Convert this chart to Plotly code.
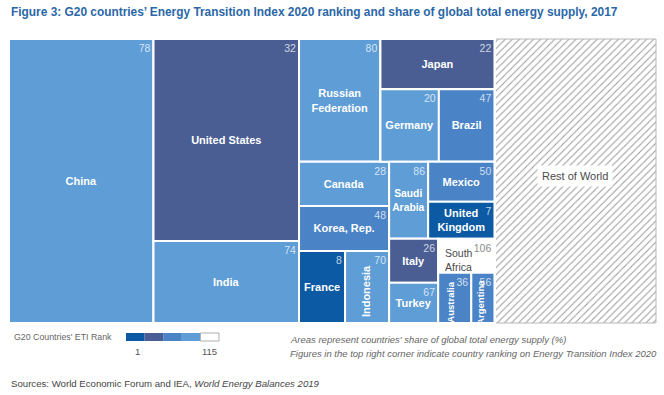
import plotly.graph_objects as go

# ---------------- data ----------------
countries = ["China", "United States", "India", "Russian Federation", "Japan",
             "Germany", "Brazil", "Canada", "Korea, Rep.", "France", "Indonesia",
             "Saudi Arabia", "Mexico", "United Kingdom", "Italy", "Turkey",
             "South Africa", "Australia", "Argentina", "Rest of World"]
shown_labels = ["China", "United States", "India", "Russian<br>Federation", "Japan",
                "Germany", "Brazil", "Canada", "Korea, Rep.", "France", "Indonesia",
                "Saudi<br>Arabia", "Mexico", "United<br>Kingdom", "Italy", "Turkey",
                "South<br>Africa", "Australia", "Argentina", "Rest of World"]
# share of global total energy supply 2017 (%)
share_pct = [22.26, 15.94, 6.47, 5.42, 3.10, 2.30, 2.19, 2.16, 2.20, 1.80, 1.72,
             1.63, 1.44, 1.33, 1.17, 1.07, 1.04, 0.90, 0.63, 24.88]
# Energy Transition Index 2020 rank
eti_rank = [78, 32, 74, 80, 22, 20, 47, 28, 48, 8, 70, 86, 50, 7, 26, 67, 106, 36, 56, None]

# nesting of the tiles (dice / slice alternating by level)
layout_tree = [
    "China",
    ["United States", "India"],
    [
        ["Russian Federation", ["Japan", ["Germany", "Brazil"]]],
        [
            ["Canada", "Korea, Rep.", ["France", "Indonesia"]],
            [
                ["Saudi Arabia", ["Mexico", "United Kingdom"]],
                [["Italy", "Turkey"], ["South Africa", ["Australia", "Argentina"]]],
            ],
        ],
    ],
    "Rest of World",
]

legend_ticks = ["1", "115"]

# ---------------- styles ----------------
DARK, SLATE, MED, LIGHT, WHITE = "#0C5AA3", "#4A5E94", "#4A84C6", "#5E9DD6", "#FFFFFF"
cell_colour = {
    "China": LIGHT, "United States": SLATE, "India": LIGHT, "Russian Federation": LIGHT,
    "Japan": SLATE, "Germany": LIGHT, "Brazil": MED, "Canada": LIGHT, "Korea, Rep.": MED,
    "France": DARK, "Indonesia": LIGHT, "Saudi Arabia": LIGHT, "Mexico": MED,
    "United Kingdom": DARK, "Italy": SLATE, "Turkey": LIGHT, "South Africa": WHITE,
    "Australia": MED, "Argentina": MED, "Rest of World": WHITE,
}
# labels drawn rotated / offset: (font size, x shift px, y shift px, angle)
special_labels = {
    "Indonesia": (11, -1, 4, -90),
    "Australia": (9.5, -4, 4, -90),
    "Argentina": (9.5, -2, 4, -90),
    "South Africa": (10.5, -7, 4, 0),
    "Rest of World": (11, 0, -5, 0),
}
FONT = "Liberation Sans, Arial, sans-serif"
W, H = 664, 395
PX0, PX1, PY0, PY1 = 9, 656, 39, 323   # treemap box in pixels

share = dict(zip(countries, share_pct))
rank = dict(zip(countries, eti_rank))
shown = dict(zip(countries, shown_labels))

ids, pars, vals, txt, rtxt = [], [], [], [], []
cols, tcols, rcols, weights, sizes, lcols, lws, pshapes = [], [], [], [], [], [], [], []


def add(node, parent):
    if isinstance(node, str):
        ids.append(node)
        pars.append(parent)
        vals.append(share[node])
        txt.append("" if node in special_labels else shown[node])
        r = rank[node]
        rtxt.append("" if r is None else str(r))
        cols.append(cell_colour[node])
        plain = node in ("South Africa", "Rest of World")
        tcols.append("#4a4a4a" if plain else "#FFFFFF")
        weights.append("normal" if plain else "bold")
        sizes.append(10.5 if plain else 11)
        rcols.append("#8c8c8c" if node == "South Africa" else "rgba(255,255,255,0.75)")
        lcols.append("#b8b8b8" if node == "Rest of World" else "#FFFFFF")
        lws.append(1 if node == "Rest of World" else 2)
        pshapes.append("/" if node == "Rest of World" else "")
        return
    gid = "grp%d" % len(ids)
    ids.append(gid)
    pars.append(parent)
    vals.append(0)
    txt.append("")
    rtxt.append("")
    cols.append(WHITE)
    tcols.append("#FFFFFF")
    weights.append("normal")
    sizes.append(11)
    rcols.append("#FFFFFF")
    lcols.append("#FFFFFF")
    lws.append(2)
    pshapes.append("")
    for child in node:
        add(child, gid)


for item in layout_tree:
    add(item, "")


# same slice-dice partition as the treemap, used only to place a few labels
def total(node):
    return share[node] if isinstance(node, str) else sum(total(c) for c in node)


centres = {}


def place(node, x0, y0, x1, y1, depth):
    if isinstance(node, str):
        centres[node] = ((x0 + x1) / 2, (y0 + y1) / 2)
        return
    t = total(node)
    pos = x0 if depth % 2 == 0 else y0
    for c in node:
        f = total(c) / t
        if depth % 2 == 0:
            w = (x1 - x0) * f
            place(c, pos, y0, pos + w, y1, depth + 1)
        else:
            w = (y1 - y0) * f
            place(c, x0, pos, x1, pos + w, depth + 1)
        pos += w


place(layout_tree, PX0, PY0, PX1, PY1, 0)

common = dict(
    ids=ids, parents=pars, values=vals, labels=ids,
    branchvalues="remainder", sort=False,
    tiling=dict(packing="slice-dice", pad=0),
    domain=dict(x=[PX0 / W, PX1 / W], y=[1 - PY1 / H, 1 - PY0 / H]),
    pathbar=dict(visible=False),
    textinfo="text",
)

fig = go.Figure()
fig.add_trace(go.Treemap(
    **common,
    text=txt,
    textposition="middle center",
    textfont=dict(family=FONT, size=sizes, color=tcols, weight=weights),
    marker=dict(colors=cols, line=dict(color=lcols, width=lws),
                pad=dict(t=0, l=0, r=0, b=0), depthfade=False,
                pattern=dict(shape=pshapes, fgcolor="#9a9a9a", bgcolor="#FFFFFF",
                             size=5, solidity=0.2)),
    root=dict(color="white"),
    hovertemplate="%{id}<br>%{value}%<extra></extra>",
))
fig.add_trace(go.Treemap(
    **common,
    text=rtxt,
    textposition="top right",
    textfont=dict(family=FONT, size=10.5, color=rcols),
    marker=dict(colors=["rgba(0,0,0,0)"] * len(ids), line=dict(width=0),
                pad=dict(t=0, l=0, r=0, b=0), depthfade=False),
    root=dict(color="rgba(0,0,0,0)"),
    hoverinfo="skip",
))

# ---------------- legend (rank scale) ----------------
sw_x0, sw_w, sw_top, sw_bot = 126, 18.6, 333, 341
legend_cols = [DARK, SLATE, MED, LIGHT, WHITE]
shapes = []
for i, c in enumerate(legend_cols):
    shapes.append(dict(
        type="rect", xref="paper", yref="paper",
        x0=(sw_x0 + i * sw_w) / W, x1=(sw_x0 + (i + 1) * sw_w) / W,
        y0=1 - sw_bot / H, y1=1 - sw_top / H,
        fillcolor=c, line=dict(color="#9a9a9a" if c == WHITE else c, width=0.8 if c == WHITE else 0),
    ))


def px(x):
    return x / W


def py(y):
    return 1 - y / H


annotations = [
    dict(text="Figure 3: G20 countries’ Energy Transition Index 2020 ranking and share of global total energy supply, 2017",
         x=px(9), y=py(12), xanchor="left", yanchor="middle",
         font=dict(family=FONT, size=11.9, color="#2A67A8", weight="bold")),
    dict(text="G20 Countries' ETI Rank", x=px(12), y=py(337), xanchor="left", yanchor="middle",
         font=dict(family=FONT, size=8.8, color="#666666")),
    dict(text=legend_ticks[0], x=px(sw_x0 + 0.5 * sw_w + 2), y=py(351), xanchor="center", yanchor="middle",
         font=dict(family=FONT, size=9.5, color="#555555")),
    dict(text=legend_ticks[1], x=px(sw_x0 + 4.5 * sw_w), y=py(351), xanchor="center", yanchor="middle",
         font=dict(family=FONT, size=9.5, color="#555555")),
    dict(text="<i>Areas represent countries' share of global total energy supply (%)</i>",
         x=px(288), y=py(339), xanchor="left", yanchor="middle",
         font=dict(family=FONT, size=9.5, color="#666666")),
    dict(text="<i>Figures in the top right corner indicate country ranking on Energy Transition Index 2020</i>",
         x=px(288), y=py(353), xanchor="left", yanchor="middle",
         font=dict(family=FONT, size=9.5, color="#666666")),
    dict(text="Sources: World Economic Forum and IEA, <i>World Energy Balances 2019</i>",
         x=px(9), y=py(383), xanchor="left", yanchor="middle",
         font=dict(family=FONT, size=9.65, color="#444444")),
]
for name, (fsize, dx, dy, ang) in special_labels.items():
    cx, cy = centres[name]
    plain = name in ("South Africa", "Rest of World")
    ann = dict(
        text=shown[name], x=px(cx + dx), y=py(cy + dy), textangle=ang,
        xanchor="center", yanchor="middle", align="left",
        font=dict(family=FONT, size=fsize, color="#4a4a4a" if plain else "#FFFFFF",
                  weight="normal" if plain else "bold"),
    )
    if name == "Rest of World":
        ann.update(bgcolor="#FFFFFF", borderpad=4)
    annotations.append(ann)
for a in annotations:
    a.update(xref="paper", yref="paper", showarrow=False)

fig.update_layout(
    width=W, height=H,
    margin=dict(l=0, r=0, t=0, b=0),
    paper_bgcolor="white",
    shapes=shapes,
    annotations=annotations,
    showlegend=False,
)

fig.write_html("out.html", config={"displayModeBar": False},
               post_script="document.body.style.margin='0';document.body.style.overflow='hidden';")
